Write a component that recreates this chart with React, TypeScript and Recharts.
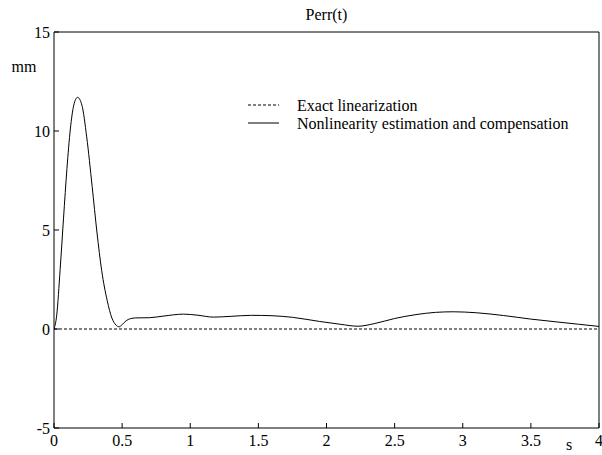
import React from "react";
import { LineChart, Line, XAxis, YAxis, Legend, Label } from "recharts";

// time in seconds and position error in mm
const times = [
	0, 0.02, 0.045, 0.07, 0.095, 0.12, 0.145, 0.173, 0.205, 0.24, 0.28, 0.315, 0.35, 0.39,
	0.425, 0.455, 0.478, 0.5, 0.53, 0.56, 0.6, 0.7, 0.8, 0.95, 1.05, 1.17, 1.3, 1.45, 1.6,
	1.75, 1.95, 2.1, 2.23, 2.35, 2.5, 2.65, 2.8, 2.93, 3.1, 3.3, 3.5, 3.7, 3.85, 4.0,
];
const compensated = [
	0, 0.7, 3.0, 5.6, 8.1, 10.1, 11.3, 11.7, 11.3, 9.7, 7.2, 4.9, 2.95, 1.45,
	0.55, 0.2, 0.11, 0.22, 0.42, 0.52, 0.56, 0.57, 0.65, 0.75, 0.7, 0.6, 0.64, 0.69, 0.67,
	0.59, 0.38, 0.24, 0.14, 0.27, 0.53, 0.72, 0.84, 0.87, 0.82, 0.68, 0.5, 0.35, 0.24, 0.13,
];
const exactTimes = [0, 4];
const exactErr = [0, 0];

const xTicks = [0, 0.5, 1, 1.5, 2, 2.5, 3, 3.5, 4];
const yTicks = [-5, 0, 5, 10, 15];
const seriesNames = ["Exact linearization", "Nonlinearity estimation and compensation"];

const FONT = "'Liberation Serif', 'Times New Roman', serif";

const compData = times.map((t, i) => ({ t, err: compensated[i] }));
const exactData = exactTimes.map((t, i) => ({ t, err: exactErr[i] }));

// matlab style: ticks point into the plot box
const BottomTick = (props: any) => {
	const { x, y, payload } = props;
	return (
		<g>
			<line x1={x} x2={x} y1={y} y2={y - 5} stroke="#000" />
			<text x={x} y={y + 18} textAnchor="middle" fontSize={16} fontFamily={FONT} fill="#000">
				{payload.value}
			</text>
		</g>
	);
};

const TopTick = (props: any) => {
	const { x, y } = props;
	return <line x1={x} x2={x} y1={y} y2={y + 5} stroke="#000" />;
};

const LeftTick = (props: any) => {
	const { x, y, payload } = props;
	return (
		<g>
			<line x1={x} x2={x + 5} y1={y} y2={y} stroke="#000" />
			<text x={x - 4} y={y + 5.5} textAnchor="end" fontSize={16} fontFamily={FONT} fill="#000">
				{payload.value}
			</text>
		</g>
	);
};

const RightTick = (props: any) => {
	const { x, y } = props;
	return <line x1={x} x2={x - 5} y1={y} y2={y} stroke="#000" />;
};

const LegendBox = () => (
	<svg width={340} height={42} style={{ display: "block" }}>
		{seriesNames.map((name, i) => (
			<g key={name}>
				<line
					x1={8}
					x2={39}
					y1={13 + i * 18}
					y2={13 + i * 18}
					stroke="#000"
					strokeDasharray={i === 0 ? "3 2" : undefined}
				/>
				<text x={57} y={18.5 + i * 18} fontSize={16} fontFamily={FONT} fill="#000">
					{name}
				</text>
			</g>
		))}
	</svg>
);

const App = () => {
	return (
		<div style={{ position: "absolute", left: 0, top: 0 }}>
			<LineChart width={602} height={455} margin={{ top: 31, right: 2, bottom: 26, left: 0 }}>
				<XAxis
					dataKey="t"
					type="number"
					domain={[0, 4]}
					ticks={xTicks}
					height={1}
					tickSize={0}
					tickMargin={0}
					tickLine={false}
					axisLine={{ stroke: "#000" }}
					tick={<BottomTick />}
					interval={0}
					allowDataOverflow
				>
					<Label
						content={(p: any) => (
							<text
								x={p.viewBox.x + p.viewBox.width - 30}
								y={p.viewBox.y + 22}
								textAnchor="middle"
								fontSize={16}
								fontFamily={FONT}
								fill="#000"
							>
								s
							</text>
						)}
					/>
				</XAxis>
				<XAxis
					xAxisId="top"
					orientation="top"
					dataKey="t"
					type="number"
					domain={[0, 4]}
					ticks={xTicks}
					height={1}
					tickSize={0}
					tickMargin={0}
					tickLine={false}
					axisLine={{ stroke: "#000" }}
					tick={<TopTick />}
					interval={0}
				>
					<Label
						content={(p: any) => (
							<text
								x={p.viewBox.x + p.viewBox.width / 2}
								y={p.viewBox.y + p.viewBox.height - 12}
								textAnchor="middle"
								fontSize={16}
								fontFamily={FONT}
								fill="#000"
							>
								Perr(t)
							</text>
						)}
					/>
				</XAxis>
				<YAxis
					type="number"
					domain={[-5, 15]}
					ticks={yTicks}
					width={54}
					tickSize={0}
					tickMargin={0}
					tickLine={false}
					axisLine={{ stroke: "#000" }}
					tick={<LeftTick />}
					interval={0}
				>
					<Label
						content={(p: any) => (
							<text
								x={p.viewBox.x + 24}
								y={p.viewBox.y + 40}
								textAnchor="middle"
								fontSize={16}
								fontFamily={FONT}
								fill="#000"
							>
								mm
							</text>
						)}
					/>
				</YAxis>
				<YAxis
					yAxisId="right"
					orientation="right"
					type="number"
					domain={[-5, 15]}
					ticks={yTicks}
					width={1}
					tickSize={0}
					tickMargin={0}
					tickLine={false}
					axisLine={{ stroke: "#000" }}
					tick={<RightTick />}
					interval={0}
				/>
				<Legend
					layout="horizontal"
					verticalAlign="middle"
					align="center"
					content={() => <LegendBox />}
					wrapperStyle={{ left: 240, top: 92, width: 340 }}
				/>
				<Line
					data={exactData}
					dataKey="err"
					name={seriesNames[0]}
					stroke="#000"
					strokeWidth={1}
					strokeDasharray="3 2"
					dot={false}
					type="linear"
					isAnimationActive={false}
				/>
				<Line
					data={compData}
					dataKey="err"
					name={seriesNames[1]}
					stroke="#000"
					strokeWidth={1}
					dot={false}
					type="monotone"
					isAnimationActive={false}
				/>
			</LineChart>
		</div>
	);
};

export default App;
